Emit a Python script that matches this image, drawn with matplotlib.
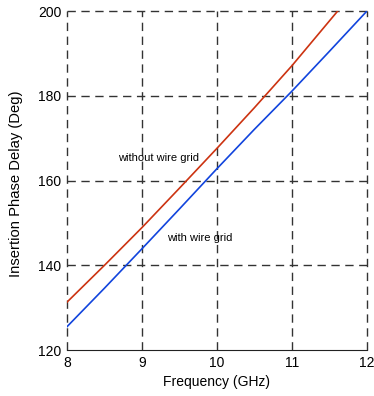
import numpy as np
import matplotlib.pyplot as plt

plt.rcParams['font.family'] = ['Liberation Sans', 'DejaVu Sans']

freq_without = [8.0, 8.5, 9.0, 9.5, 10.0, 10.5, 11.0, 11.61]
phase_without = [131.3, 140.0, 148.9, 158.2, 167.6, 177.2, 187.1, 200.0]
freq_with = [8.0, 8.5, 9.0, 9.5, 10.0, 10.5, 11.0, 11.5, 12.0]
phase_with = [125.5, 134.6, 143.9, 153.3, 162.8, 172.1, 181.1, 190.5, 200.0]
xticks = [8, 9, 10, 11, 12]
yticks = [120, 140, 160, 180, 200]

fig = plt.figure(figsize=(3.74, 3.96), dpi=100)
ax = fig.add_axes([0.179, 0.116, 0.802, 0.856])

ax.plot(freq_without, phase_without, color='#cc3311', linewidth=1.2)
ax.plot(freq_with, phase_with, color='#1144dd', linewidth=1.2)

# dashed grid including the frame edges
for x in xticks:
    ax.plot([x, x], [120, 200], color='#333333', linewidth=1.0,
            dashes=(6, 4), clip_on=False, zorder=0)
for y in yticks[1:]:
    ax.plot([8, 12], [y, y], color='#333333', linewidth=1.0,
            dashes=(6, 4), clip_on=False, zorder=0)

ax.set_xlim(8, 12)
ax.set_ylim(120, 200)
ax.set_xticks(xticks)
ax.set_yticks(yticks)
ax.tick_params(length=0, labelsize=10, pad=4)
for s in ['left', 'top', 'right']:
    ax.spines[s].set_visible(False)
ax.spines['bottom'].set_color('#222222')

ax.text(8.68, 165.3, 'without wire grid', fontsize=8, va='center', ha='left')
ax.text(9.33, 146.4, 'with wire grid', fontsize=8, va='center', ha='left')

ax.set_xlabel('Frequency (GHz)', fontsize=10)
ax.set_ylabel('Insertion Phase Delay (Deg)', fontsize=10.6)
ax.yaxis.set_label_coords(-0.147, 0.49)

fig.savefig('out.png', dpi=100)
